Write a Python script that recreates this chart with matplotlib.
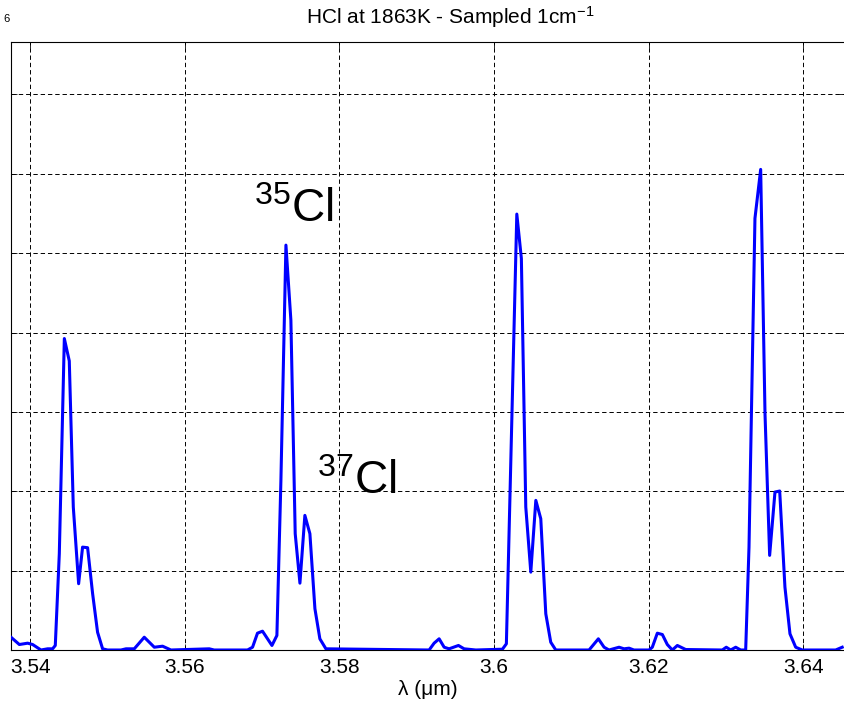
import matplotlib.pyplot as plt

plt.rcParams["font.family"] = ["Liberation Sans", "DejaVu Sans"]
plt.rcParams["mathtext.fontset"] = "custom"
plt.rcParams["mathtext.rm"] = "Liberation Sans"
plt.rcParams["mathtext.it"] = "Liberation Sans:italic"

# wavelength (um) and line strength (arb. units, grid step = 1)
wavelength = [
    3.5375, 3.53858, 3.53965, 3.5403, 3.54138, 3.54224, 3.54288, 3.54323,
    3.54375, 3.5444, 3.54504, 3.54556, 3.54625, 3.54676, 3.54741, 3.54806,
    3.5487, 3.54935, 3.55, 3.55173, 3.55238, 3.55345, 3.55474, 3.55604,
    3.55711, 3.55819, 3.56315, 3.56379, 3.5681, 3.56875, 3.56939, 3.57004,
    3.57069, 3.57126, 3.5719, 3.57242, 3.57307, 3.57371, 3.57427, 3.57488,
    3.57552, 3.57617, 3.57682, 3.57746, 3.57824, 3.5916, 3.59224, 3.59289,
    3.59354, 3.59418, 3.59539, 3.59612, 3.59764, 3.60108, 3.60159, 3.60294,
    3.60353, 3.6041, 3.60475, 3.6054, 3.60604, 3.60669, 3.60733, 3.60798,
    3.61229, 3.61349, 3.61423, 3.61487, 3.61617, 3.61681, 3.61746, 3.6181,
    3.62005, 3.62047, 3.62112, 3.62177, 3.62241, 3.62306, 3.62371, 3.62479,
    3.62953, 3.63004, 3.63061, 3.63126, 3.6319, 3.63255, 3.63298, 3.63375,
    3.63449, 3.63505, 3.63565, 3.63634, 3.63695, 3.63763, 3.63828, 3.63902,
    3.63987, 3.64419, 3.64504,
]
intensity = [
    0.161, 0.069, 0.086, 0.069, 0.0, 0.015, 0.015, 0.057,
    1.213, 3.924, 3.642, 1.801, 0.835, 1.296, 1.289, 0.709,
    0.224, 0.015, 0.0, 0.0, 0.015, 0.015, 0.161, 0.035,
    0.048, 0.0, 0.015, 0.0, 0.0, 0.035, 0.212, 0.237,
    0.141, 0.057, 0.183, 2.137, 5.101, 4.155, 1.465, 0.842,
    1.696, 1.465, 0.52, 0.141, 0.015, 0.0, 0.086, 0.141,
    0.035, 0.015, 0.057, 0.015, 0.0, 0.01, 0.078, 5.492,
    4.933, 1.801, 0.981, 1.885, 1.654, 0.456, 0.098, 0.0,
    0.0, 0.141, 0.035, 0.0, 0.035, 0.015, 0.023, 0.0,
    0.0, 0.035, 0.212, 0.195, 0.069, 0.0, 0.057, 0.006,
    0.0, 0.035, 0.0, 0.035, 0.0, 0.0, 1.296, 5.438,
    6.055, 2.979, 1.192, 1.99, 2.003, 0.792, 0.204, 0.035,
    0.0, 0.0, 0.035,
]
xticks = [3.54, 3.56, 3.58, 3.6, 3.62, 3.64]
xtick_labels = ["3.54", "3.56", "3.58", "3.6", "3.62", "3.64"]
yticks = [0, 1, 2, 3, 4, 5, 6, 7]

fig = plt.figure(figsize=(8.44, 7.01), dpi=100)
ax = fig.add_axes([11 / 844, 51 / 701, 834 / 844, 608 / 701])

ax.plot(wavelength, intensity, color="#0000ff", linewidth=2.2, zorder=5)

ax.set_xlim(3.5375, 3.6454)
ax.set_ylim(0, 7.66)
ax.set_xticks(xticks)
ax.set_xticklabels(xtick_labels)
ax.set_yticks(yticks)
ax.tick_params(direction="in", top=True, right=True, length=4, width=0.6,
               labelleft=False, labelsize=15, pad=6)
ax.grid(True, color="k", linestyle=(0, (4.5, 3)), linewidth=0.7)
for s in ax.spines.values():
    s.set_linewidth(0.8)

ax.set_title("HCl at 1863K - Sampled 1cm$^{-1}$", fontsize=15, pad=13, x=0.527)
ax.set_xlabel("λ (μm)", fontsize=15, labelpad=2)

ax.text(3.56897, 5.39, r"$^{35}$Cl", fontsize=33, va="baseline", ha="left")
ax.text(3.57711, 1.97, r"$^{37}$Cl", fontsize=33, va="baseline", ha="left")

fig.text(0.004, 0.973, "6", fontsize=8, ha="left", va="center")

fig.savefig("out.png", dpi=100)
